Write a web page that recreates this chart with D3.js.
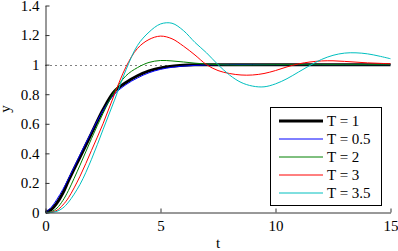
<!DOCTYPE html>
<html>
<head>
<meta charset="utf-8">
<script src="https://cdn.jsdelivr.net/npm/d3@7"></script>
<style>
  body { margin: 0; background: #fff; }
  svg { display: block; font-family: "Liberation Serif", "Times New Roman", serif; }
</style>
</head>
<body>
<div id="plot"></div>
<script>
const w = 398;
const h = 251;

// time samples shared by every series
const tValues = [0, 0.25, 0.5, 0.75, 1, 1.5, 2, 2.5, 3, 3.5, 4, 4.5, 5, 5.5, 6, 6.5, 7, 7.5,
  8, 8.5, 9, 9.5, 10, 10.5, 11, 11.5, 12, 12.5, 13, 13.5, 14, 14.5, 15];

const seriesNames = ["T = 1", "T = 0.5", "T = 2", "T = 3", "T = 3.5"];
const seriesColors = ["#000000", "#0000ff", "#008000", "#ff0000", "#00bfbf"];
const seriesWidths = [3, 1, 1, 1, 1];

const yT1 = [0, 0.02, 0.065, 0.13, 0.215, 0.375, 0.535, 0.695, 0.82, 0.88, 0.925, 0.958, 0.978, 0.99, 0.996, 0.999, 1,
  1, 1, 1, 1, 1, 1, 1, 1, 1, 1, 1, 1, 1, 1, 1, 1];
const yT05 = [0, 0.035, 0.09, 0.155, 0.23, 0.39, 0.545, 0.69, 0.8, 0.865, 0.91, 0.945, 0.968, 0.982, 0.99, 0.995, 0.998,
  1, 1, 1, 1, 1, 1, 1, 1, 1, 1, 1, 1, 1, 1, 1, 1];
const yT2 = [0, 0.005, 0.03, 0.08, 0.15, 0.32, 0.5, 0.67, 0.82, 0.925, 0.98, 1.015, 1.028, 1.025, 1.018, 1.01, 1.004,
  1.0, 0.998, 0.997, 0.998, 0.999, 1, 1, 1, 1, 1, 1, 1, 1, 1, 1, 1];
const yT3 = [0, 0.002, 0.015, 0.05, 0.1, 0.245, 0.42, 0.6, 0.8, 0.985, 1.11, 1.17, 1.193, 1.175, 1.125, 1.065, 1.0,
  0.96, 0.94, 0.93, 0.93, 0.94, 0.96, 0.985, 1.005, 1.018, 1.025, 1.026, 1.022, 1.017, 1.012, 1.009, 1.006];
const yT35 = [0, 0.001, 0.008, 0.03, 0.07, 0.19, 0.36, 0.56, 0.76, 0.965, 1.13, 1.22, 1.275, 1.28, 1.23, 1.15, 1.08,
  1.0, 0.93, 0.88, 0.855, 0.85, 0.87, 0.905, 0.95, 0.995, 1.035, 1.063, 1.078, 1.08, 1.073, 1.058, 1.04];
const seriesValues = [yT1, yT05, yT2, yT3, yT35];

const xTicks = [0, 5, 10, 15];
const yTicks = [0, 0.2, 0.4, 0.6, 0.8, 1, 1.2, 1.4];
const refLevel = 1;

const xScale = d3.scaleLinear().domain([0, 15]).range([45.5, 390.5]);
const yScale = d3.scaleLinear().domain([0, 1.4]).range([212.5, 5.5]);

const svg = d3.select("div#plot")
  .append("svg")
  .attr("width", w)
  .attr("height", h);

// dotted reference line
svg.append("line")
  .attr("x1", xScale(0))
  .attr("x2", xScale(15))
  .attr("y1", Math.round(yScale(refLevel)) + 0.5)
  .attr("y2", Math.round(yScale(refLevel)) + 0.5)
  .attr("stroke", "#000")
  .attr("stroke-width", 1)
  .attr("stroke-dasharray", "1,4");

const line = d3.line()
  .x((d, i) => xScale(tValues[i]))
  .y(d => yScale(d))
  .curve(d3.curveCatmullRom.alpha(0.5));

seriesValues.forEach((vals, k) => {
  svg.append("path")
    .datum(vals)
    .attr("d", line)
    .attr("fill", "none")
    .attr("stroke", seriesColors[k])
    .attr("stroke-width", seriesWidths[k]);
});

const xAxis = d3.axisBottom(xScale).tickValues(xTicks).tickSize(-4).tickSizeOuter(0).tickPadding(8);
const yAxis = d3.axisLeft(yScale).tickValues(yTicks).tickSize(-4).tickSizeOuter(0).tickPadding(6)
  .tickFormat(d3.format("~g"));

const gx = svg.append("g")
  .attr("transform", `translate(0, ${yScale(0)})`)
  .call(xAxis);
const gy = svg.append("g")
  .attr("transform", `translate(${xScale(0)}, 0)`)
  .call(yAxis);

[gx, gy].forEach(g => {
  g.selectAll("path, line").attr("stroke", "#333");
  g.selectAll("text")
    .attr("fill", "#000")
    .attr("font-size", "15px")
    .attr("font-family", "Liberation Serif, serif");
});

svg.append("text")
  .attr("x", (xScale(0) + xScale(15)) / 2)
  .attr("y", 248)
  .attr("text-anchor", "middle")
  .attr("font-size", "15px")
  .text("t");

svg.append("text")
  .attr("transform", "rotate(-90)")
  .attr("x", -(yScale(0) + yScale(1.4)) / 2)
  .attr("y", 10)
  .attr("text-anchor", "middle")
  .attr("font-size", "15px")
  .text("y");

// legend
const legend = svg.append("g");
legend.append("rect")
  .attr("x", 270.5)
  .attr("y", 107.5)
  .attr("width", 111)
  .attr("height", 98)
  .attr("fill", "#fff")
  .attr("stroke", "#000")
  .attr("stroke-width", 1);

seriesNames.forEach((name, k) => {
  const ly = 121 + k * 18;
  legend.append("line")
    .attr("x1", 279)
    .attr("x2", 323)
    .attr("y1", ly)
    .attr("y2", ly)
    .attr("stroke", seriesColors[k])
    .attr("stroke-width", seriesWidths[k]);
  legend.append("text")
    .attr("x", 327)
    .attr("y", ly + 5)
    .attr("font-size", "15px")
    .text(name);
});
</script>
</body>
</html>
